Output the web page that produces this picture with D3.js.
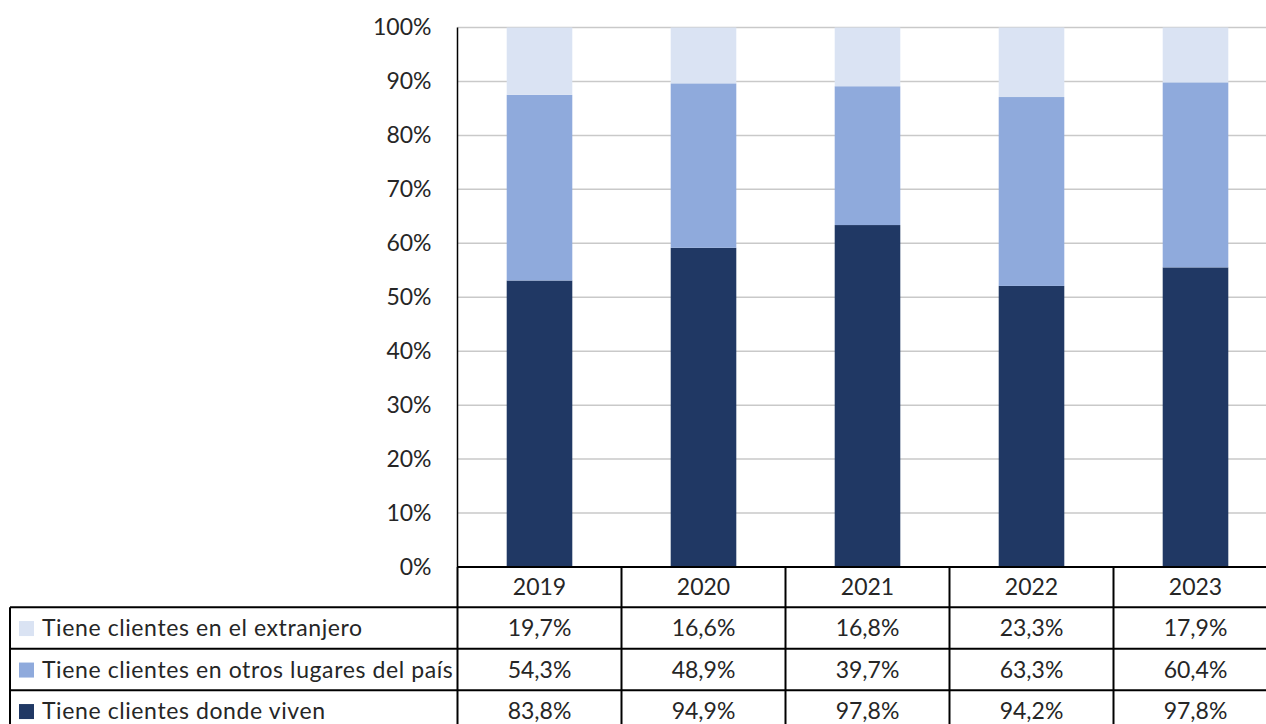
<!DOCTYPE html>
<html>
<head>
<meta charset="utf-8">
<script src="https://cdn.jsdelivr.net/npm/d3@7"></script>
<style>
  html, body { margin: 0; padding: 0; background: #fff; overflow: hidden; }
  svg { display: block; }
  text { font-family: Lato, "Open Sans", sans-serif; fill: #262626; }
</style>
</head>
<body>
<svg id="chart" width="1266" height="724"></svg>
<script>
// Years shown as columns
const years = ["2019", "2020", "2021", "2022", "2023"];

// Share of respondents in each category (%), per year
const dondeViven   = [83.8, 94.9, 97.8, 94.2, 97.8];
const otrosLugares = [54.3, 48.9, 39.7, 63.3, 60.4];
const extranjero   = [19.7, 16.6, 16.8, 23.3, 17.9];

// Series names as listed in the data table (top to bottom)
const seriesNames = [
  "Tiene clientes en el extranjero",
  "Tiene clientes en otros lugares del país",
  "Tiene clientes donde viven"
];
const seriesKeys = ["extranjero", "otros", "donde"];
const seriesColors = { extranjero: "#DAE3F3", otros: "#8FAADC", donde: "#203864" };

// Y-axis tick values
const yTicks = [0, 0.1, 0.2, 0.3, 0.4, 0.5, 0.6, 0.7, 0.8, 0.9, 1.0];

const rows = years.map((y, i) => ({
  year: y, donde: dondeViven[i], otros: otrosLugares[i], extranjero: extranjero[i]
}));
const seriesValues = { extranjero, otros: otrosLugares, donde: dondeViven };

const svg = d3.select("#chart");

const plotLeft = 457.5, plotRight = 1277.5, plotTop = 27.5, plotBottom = 567;

const x = d3.scaleBand().domain(years).range([plotLeft, plotRight])
  .paddingInner(0.6).paddingOuter(0.3);
const y = d3.scaleLinear().domain([0, 1]).range([plotBottom, plotTop]);

// Gridlines
svg.append("g").selectAll("line").data(yTicks.filter(t => t > 0)).join("line")
  .attr("x1", plotLeft).attr("x2", 1266)
  .attr("y1", d => y(d)).attr("y2", d => y(d))
  .attr("stroke", "#c9c9c9").attr("stroke-width", 1.5);

// 100% stacked columns (bottom: donde, middle: otros, top: extranjero)
const stack = d3.stack().keys(["donde", "otros", "extranjero"]).offset(d3.stackOffsetExpand);
const stacked = stack(rows);

svg.append("g").selectAll("g").data(stacked).join("g")
  .attr("fill", s => seriesColors[s.key])
  .selectAll("rect").data(s => s).join("rect")
  .attr("x", d => x(d.data.year))
  .attr("width", x.bandwidth())
  .attr("y", d => y(d[1]))
  .attr("height", d => y(d[0]) - y(d[1]));

// Y axis
const yAxis = d3.axisLeft(y).tickValues(yTicks).tickFormat(d3.format(".0%")).tickSize(0).tickPadding(26);
const gy = svg.append("g").attr("transform", `translate(${plotLeft},0)`).call(yAxis);
gy.select(".domain").remove();
gy.selectAll("text").attr("font-size", 23).attr("fill", "#262626")
  .style("font-family", "Lato, 'Open Sans', sans-serif");
svg.append("line")
  .attr("x1", plotLeft).attr("x2", plotLeft)
  .attr("y1", plotTop).attr("y2", plotBottom)
  .attr("stroke", "#000").attr("stroke-width", 1.5);

// Data table
const step = x.step();
const headerBottom = 607.3;
const rowH = 41.5;
const tableLeft = 10;
const tableBottom = headerBottom + rowH * 3;
const lineStyle = sel => sel.attr("stroke", "#000").attr("stroke-width", 2);

const tbl = svg.append("g");
// header top line
tbl.append("line").attr("x1", plotLeft).attr("x2", 1266)
  .attr("y1", plotBottom).attr("y2", plotBottom).call(lineStyle);
// row lines
[0, 1, 2].forEach(r => {
  tbl.append("line").attr("x1", tableLeft).attr("x2", 1266)
    .attr("y1", headerBottom + r * rowH).attr("y2", headerBottom + r * rowH).call(lineStyle);
});
// column lines
d3.range(years.length + 1).forEach(i => {
  const cx = plotLeft + i * step;
  tbl.append("line").attr("x1", cx).attr("x2", cx)
    .attr("y1", plotBottom).attr("y2", tableBottom).call(lineStyle);
});
// left border
tbl.append("line").attr("x1", tableLeft).attr("x2", tableLeft)
  .attr("y1", headerBottom).attr("y2", tableBottom).call(lineStyle);

// header years
tbl.selectAll("text.year").data(years).join("text").attr("class", "year")
  .attr("x", d => x(d) + x.bandwidth() / 2)
  .attr("y", (plotBottom + headerBottom) / 2)
  .attr("dy", "0.36em").attr("text-anchor", "middle").attr("font-size", 23)
  .text(d => d);

const fmt = v => d3.format(".1f")(v).replace(".", ",") + "%";

seriesKeys.forEach((key, r) => {
  const cy = headerBottom + r * rowH + rowH / 2;
  tbl.append("rect").attr("x", 19).attr("y", cy - 7).attr("width", 15).attr("height", 15)
    .attr("fill", seriesColors[key]);
  tbl.append("text").attr("x", 42).attr("y", cy).attr("dy", "0.36em")
    .attr("font-size", 23).attr("letter-spacing", 0.6).text(seriesNames[r]);
  tbl.selectAll(null).data(seriesValues[key]).join("text")
    .attr("x", (d, i) => x(years[i]) + x.bandwidth() / 2)
    .attr("y", cy).attr("dy", "0.36em").attr("text-anchor", "middle")
    .attr("font-size", 23).text(d => fmt(d));
});
</script>
</body>
</html>
